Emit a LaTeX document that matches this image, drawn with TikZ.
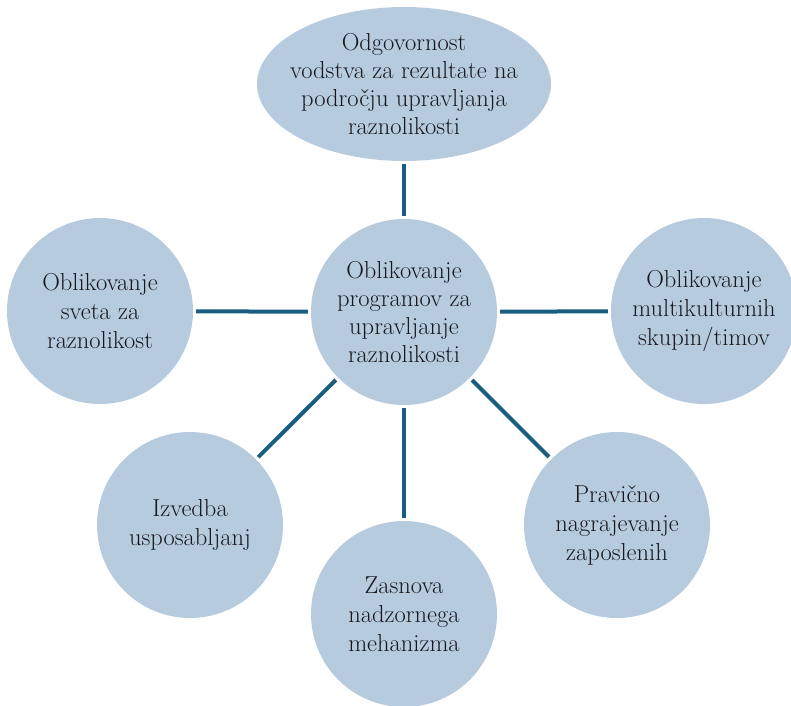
\documentclass[tikz,border=0pt]{standalone}
\usepackage{fontspec}
\usetikzlibrary{shapes.geometric}
\definecolor{bubblefill}{HTML}{B7CBDF}
\definecolor{linkcol}{HTML}{195E80}
\definecolor{txt}{HTML}{18181C}
\newcommand\diagtext[1]{\fontsize{24.5}{#1}\selectfont\addfontfeature{FakeBold=0.6}}
\begin{document}
\begin{tikzpicture}[x=1pt,y=-1pt,
  bubble/.style={circle,fill=bubblefill,minimum size=186pt,inner sep=0pt,align=center,
    font=\diagtext{29},text=txt},
  topbubble/.style={ellipse,fill=bubblefill,minimum width=294pt,minimum height=154pt,inner sep=-14pt,align=center,
    font=\diagtext{28},text=txt},
  link/.style={draw=linkcol,line width=4pt,shorten <=3pt,shorten >=3pt}]
\useasboundingbox (0,0) rectangle (791,705);
\node[topbubble] (top) at (404,84) {Odgovornost\\vodstva za rezultate na\\področju upravljanja\\raznolikosti};
\node[bubble,font=\diagtext{28.3}] (c) at (404,312) {Oblikovanje\\programov za\\upravljanje\\raznolikosti};
\node[bubble] (l) at (100,311) {Oblikovanje\\sveta za\\raznolikost};
\node[bubble] (r) at (704,311) {Oblikovanje\\multikulturnih\\skupin/timov};
\node[bubble] (bl) at (190,525) {Izvedba\\usposabljanj};
\node[bubble] (b) at (404,614) {Zasnova\\nadzornega\\mehanizma};
\node[bubble] (br) at (617,525) {Pravično\\nagrajevanje\\zaposlenih};
\draw[link] (top) -- (c);
\draw[link] (l) -- (c);
\draw[link] (c) -- (r);
\draw[link] (c) -- (b);
\draw[link] (c) -- (bl);
\draw[link] (c) -- (br);
\end{tikzpicture}
\end{document}
